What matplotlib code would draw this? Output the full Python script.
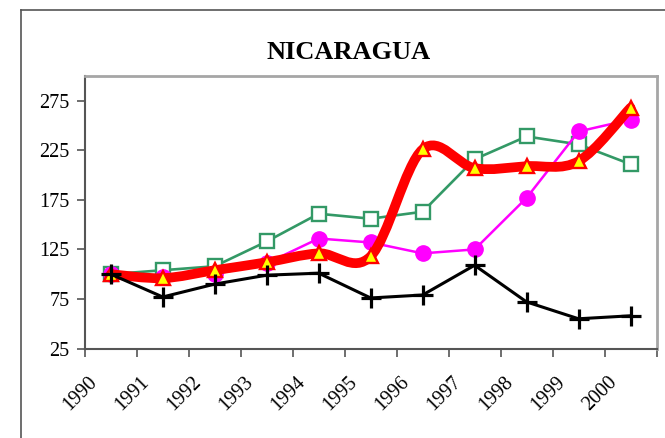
import matplotlib
matplotlib.use('Agg')
import matplotlib.pyplot as plt
import matplotlib.transforms as mtransforms
from matplotlib.path import Path
from matplotlib.patches import PathPatch
from matplotlib.lines import Line2D
import numpy as np

years = ['1990', '1991', '1992', '1993', '1994', '1995',
         '1996', '1997', '1998', '1999', '2000']
green_sq = [100, 104, 108, 133, 161, 156, 163, 216, 239, 231, 211]
magenta_dot = [100, 97, 100, 111, 136, 132, 121, 125, 177, 244, 256]
red_tri = [100, 96, 104, 112, 121, 118, 226, 207, 209, 214, 268]
black_plus = [100, 77, 90, 99, 101, 76, 79, 109, 72, 55, 58]
yticks = [25, 75, 125, 175, 225, 275]

plt.rcParams['font.family'] = ['Liberation Serif', 'DejaVu Serif']

fig = plt.figure(figsize=(6.65, 4.38), dpi=100)
ax = fig.add_axes([84.8 / 665, 1 - 348.5 / 438, (656.5 - 84.8) / 665, (348.5 - 76) / 438])

x = np.arange(len(years))

# green squares (bottom), then magenta, red smoothed, black on top
ax.plot(x, green_sq, color='#339966', lw=1.9, marker='s', ms=10,
        mfc='white', mec='#339966', mew=1.7, zorder=2)
ax.plot(x, magenta_dot, color='#ff00ff', lw=1.8, marker='o', ms=11,
        mfc='#ff00ff', mec='#ff00ff', zorder=3)

# smoothed red line (Catmull-Rom style bezier, like Excel's smoothed line)
pts = np.column_stack([x, red_tri]).astype(float)
verts = [pts[0]]
codes = [Path.MOVETO]
n = len(pts)
for i in range(n - 1):
    p0 = pts[max(i - 1, 0)]
    p1 = pts[i]
    p2 = pts[i + 1]
    p3 = pts[min(i + 2, n - 1)]
    c1 = p1 + (p2 - p0) / 6.0
    c2 = p2 - (p3 - p1) / 6.0
    verts += [c1, c2, p2]
    codes += [Path.CURVE4] * 3
ax.add_patch(PathPatch(Path(verts, codes), fill=False, edgecolor='#ff0000',
                       lw=7, capstyle='round', joinstyle='round', zorder=4))
ax.plot(x, red_tri, ls='none', marker='^', ms=10, mfc='#ffff00',
        mec='#ff0000', mew=1.7, zorder=5)

ax.plot(x, black_plus, color='black', lw=2.2, marker='+', ms=14,
        mew=2.3, zorder=6)

ax.set_xlim(-0.5, len(years) - 0.5)
ax.set_ylim(25, 300)
ax.set_yticks(yticks)
ax.set_yticklabels([str(v) for v in yticks], fontsize=14.5)
ax.tick_params(axis='y', direction='out', length=6, width=1.2,
               color='#555555', pad=5)

ax.set_xticks(x)
ax.set_xticklabels(years, fontsize=14.5, rotation=45, ha='right',
                   va='center', rotation_mode='anchor')
ax.set_xticks(np.arange(-0.5, len(years)), minor=True)
ax.tick_params(axis='x', which='major', length=0, pad=22)
ax.tick_params(axis='x', which='minor', direction='out', length=6,
               width=1.2, color='#555555')
shift = mtransforms.ScaledTranslation(-0.16, 0, fig.dpi_scale_trans)
for lab in ax.get_xticklabels():
    lab.set_transform(lab.get_transform() + shift)

for side in ['top', 'right']:
    ax.spines[side].set_color('#a6a6a6')
    ax.spines[side].set_linewidth(2.0)
for side in ['left', 'bottom']:
    ax.spines[side].set_color('#555555')
    ax.spines[side].set_linewidth(1.5)

fig.text(348.5 / 665, 1 - 52.5 / 438, 'NICARAGUA', ha='center', va='center',
         fontsize=19, fontweight='bold')

# outer chart frame
fig.add_artist(Line2D([21 / 665, 21 / 665], [0, 1 - 9.5 / 438],
                      transform=fig.transFigure, color='#555555', lw=1.2))
fig.add_artist(Line2D([21 / 665, 1], [1 - 9.5 / 438, 1 - 9.5 / 438],
                      transform=fig.transFigure, color='#555555', lw=1.2))

fig.savefig('out.png', dpi=100)
